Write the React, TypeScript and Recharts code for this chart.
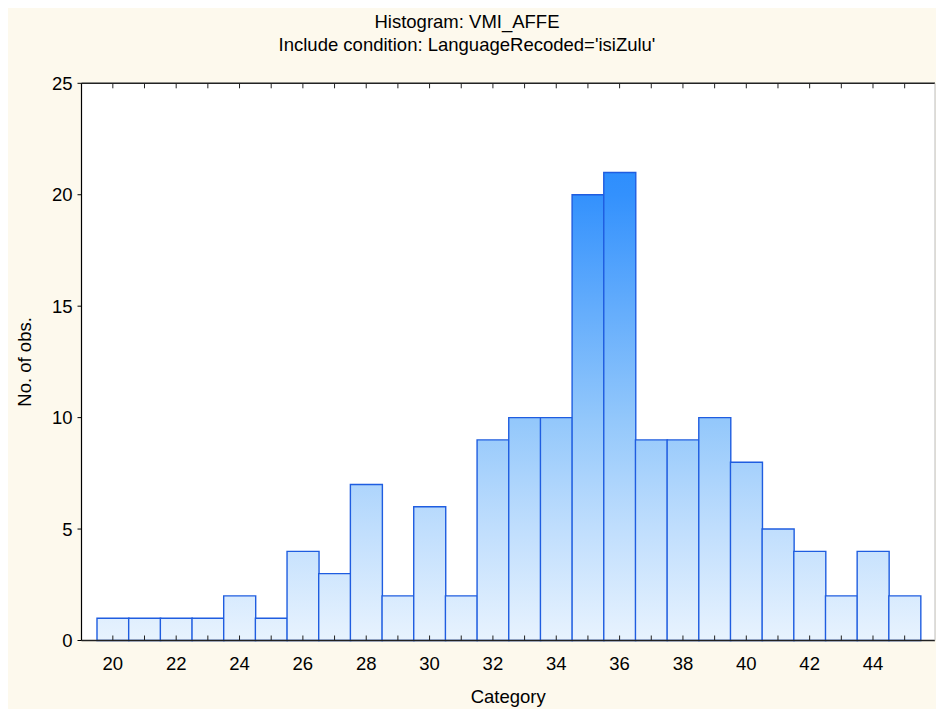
import React from 'react';
import { BarChart, Bar, XAxis, YAxis, CartesianGrid } from 'recharts';

const categories = [20, 21, 22, 23, 24, 25, 26, 27, 28, 29, 30, 31, 32, 33, 34, 35, 36, 37, 38, 39, 40, 41, 42, 43, 44, 45];
const counts = [1, 1, 1, 1, 2, 1, 4, 3, 7, 2, 6, 2, 9, 10, 10, 20, 21, 9, 9, 10, 8, 5, 4, 2, 4, 2];
const labelledCategories = [20, 22, 24, 26, 28, 30, 32, 34, 36, 38, 40, 42, 44];
const yTicks = [0, 5, 10, 15, 20, 25];
const titleText = 'Histogram: VMI_AFFE';
const subtitleText = "Include condition: LanguageRecoded='isiZulu'";
const xAxisTitle = 'Category';
const yAxisTitle = 'No. of obs.';

const data = categories.map((c, i) => ({ cat: c, n: counts[i] }));

const FONT = "Arial, 'Liberation Sans', sans-serif";
const FS = 18.5;
const W = 928;
const H = 701;
const PLOT_TOP = 75.3;
const PLOT_BOTTOM = 632.5;

const BottomTick = (props: any) => {
  const { x, y, payload } = props;
  const show = labelledCategories.includes(payload.value);
  return (
    <g>
      <line x1={x} x2={x} y1={y} y2={y - 5} stroke="#222" strokeWidth={1} />
      {show && (
        <text x={x} y={y + 29} textAnchor="middle" fontSize={FS} fontFamily={FONT} fill="#000">
          {payload.value}
        </text>
      )}
    </g>
  );
};

const TopTick = (props: any) => {
  const { x, y } = props;
  return <line x1={x} x2={x} y1={y} y2={y + 5} stroke="#222" strokeWidth={1} />;
};

export default function App() {
  return (
    <div
      style={{
        position: 'fixed',
        left: 8,
        top: 8,
        width: W + 40,
        height: H + 40,
        overflow: 'hidden',
        background: '#fdf9ed',
      }}
    >
      <svg width={0} height={0} style={{ position: 'absolute' }}>
        <defs>
          <linearGradient id="barGrad" gradientUnits="userSpaceOnUse" x1={0} y1={PLOT_TOP} x2={0} y2={PLOT_BOTTOM}>
            <stop offset="0" stopColor="#1a84ff" />
            <stop offset="0.2" stopColor="#3391fd" />
            <stop offset="0.6" stopColor="#92c7fb" />
            <stop offset="0.8" stopColor="#c0defd" />
            <stop offset="1" stopColor="#e8f3fe" />
          </linearGradient>
        </defs>
      </svg>
      <div
        style={{
          position: 'absolute',
          left: 0,
          top: 1.5,
          width: 918,
          textAlign: 'center',
          fontFamily: FONT,
          fontSize: FS,
          lineHeight: '23px',
          color: '#000',
        }}
      >
        <div>{titleText}</div>
        <div>{subtitleText}</div>
      </div>
      <div style={{ position: 'absolute', left: 0, top: 0 }}>
        <BarChart
          width={W}
          height={H}
          data={data}
          margin={{ top: PLOT_TOP - 1, right: 0, bottom: 0, left: 0 }}
          barCategoryGap={0}
          barGap={0}
        >
          <CartesianGrid vertical={false} stroke="#d8d8d8" fill="#ffffff" />
          <Bar
            dataKey="n"
            xAxisId="bottom"
            yAxisId="left"
            fill="url(#barGrad)"
            stroke="#1f5de0"
            strokeWidth={1.4}
            isAnimationActive={false}
          />
          <XAxis
            dataKey="cat"
            xAxisId="bottom"
            orientation="bottom"
            height={H - PLOT_BOTTOM}
            interval={0}
            padding={{ left: 15.5, right: 14.5 }}
            axisLine={{ stroke: '#222', strokeWidth: 1.5 }}
            tickLine={false}
            tickSize={0}
            tickMargin={0}
            tick={<BottomTick />}
            label={(p: any) => {
              const vb = p.viewBox || {};
              return (
                <text
                  x={vb.x + vb.width / 2}
                  y={694.5}
                  textAnchor="middle"
                  fontSize={FS}
                  fontFamily={FONT}
                  fill="#000"
                >
                  {xAxisTitle}
                </text>
              );
            }}
          />
          <XAxis
            dataKey="cat"
            xAxisId="top"
            orientation="top"
            height={1}
            interval={0}
            padding={{ left: 15.5, right: 14.5 }}
            axisLine={{ stroke: '#222', strokeWidth: 1.5 }}
            tickLine={false}
            tickSize={0}
            tickMargin={0}
            tick={<TopTick />}
          />
          <YAxis
            yAxisId="left"
            width={73.5}
            domain={[0, 25]}
            ticks={yTicks}
            interval={0}
            axisLine={{ stroke: '#000', strokeWidth: 1.2 }}
            tickLine={{ stroke: '#000' }}
            tickSize={4}
            tickMargin={5}
            tick={{ fontSize: FS, fontFamily: FONT, fill: '#000' }}
            label={(p: any) => {
              const vb = p.viewBox || {};
              const cx = 17;
              const cy = vb.y + vb.height / 2;
              return (
                <text
                  x={cx}
                  y={cy}
                  transform={`rotate(-90, ${cx}, ${cy})`}
                  textAnchor="middle"
                  dominantBaseline="central"
                  fontSize={FS}
                  fontFamily={FONT}
                  fill="#000"
                >
                  {yAxisTitle}
                </text>
              );
            }}
          />
          <YAxis
            yAxisId="right"
            orientation="right"
            width={1}
            domain={[0, 25]}
            ticks={yTicks}
            axisLine={{ stroke: '#bdbdbd' }}
            tick={false}
            tickLine={false}
          />
        </BarChart>
      </div>
    </div>
  );
}
